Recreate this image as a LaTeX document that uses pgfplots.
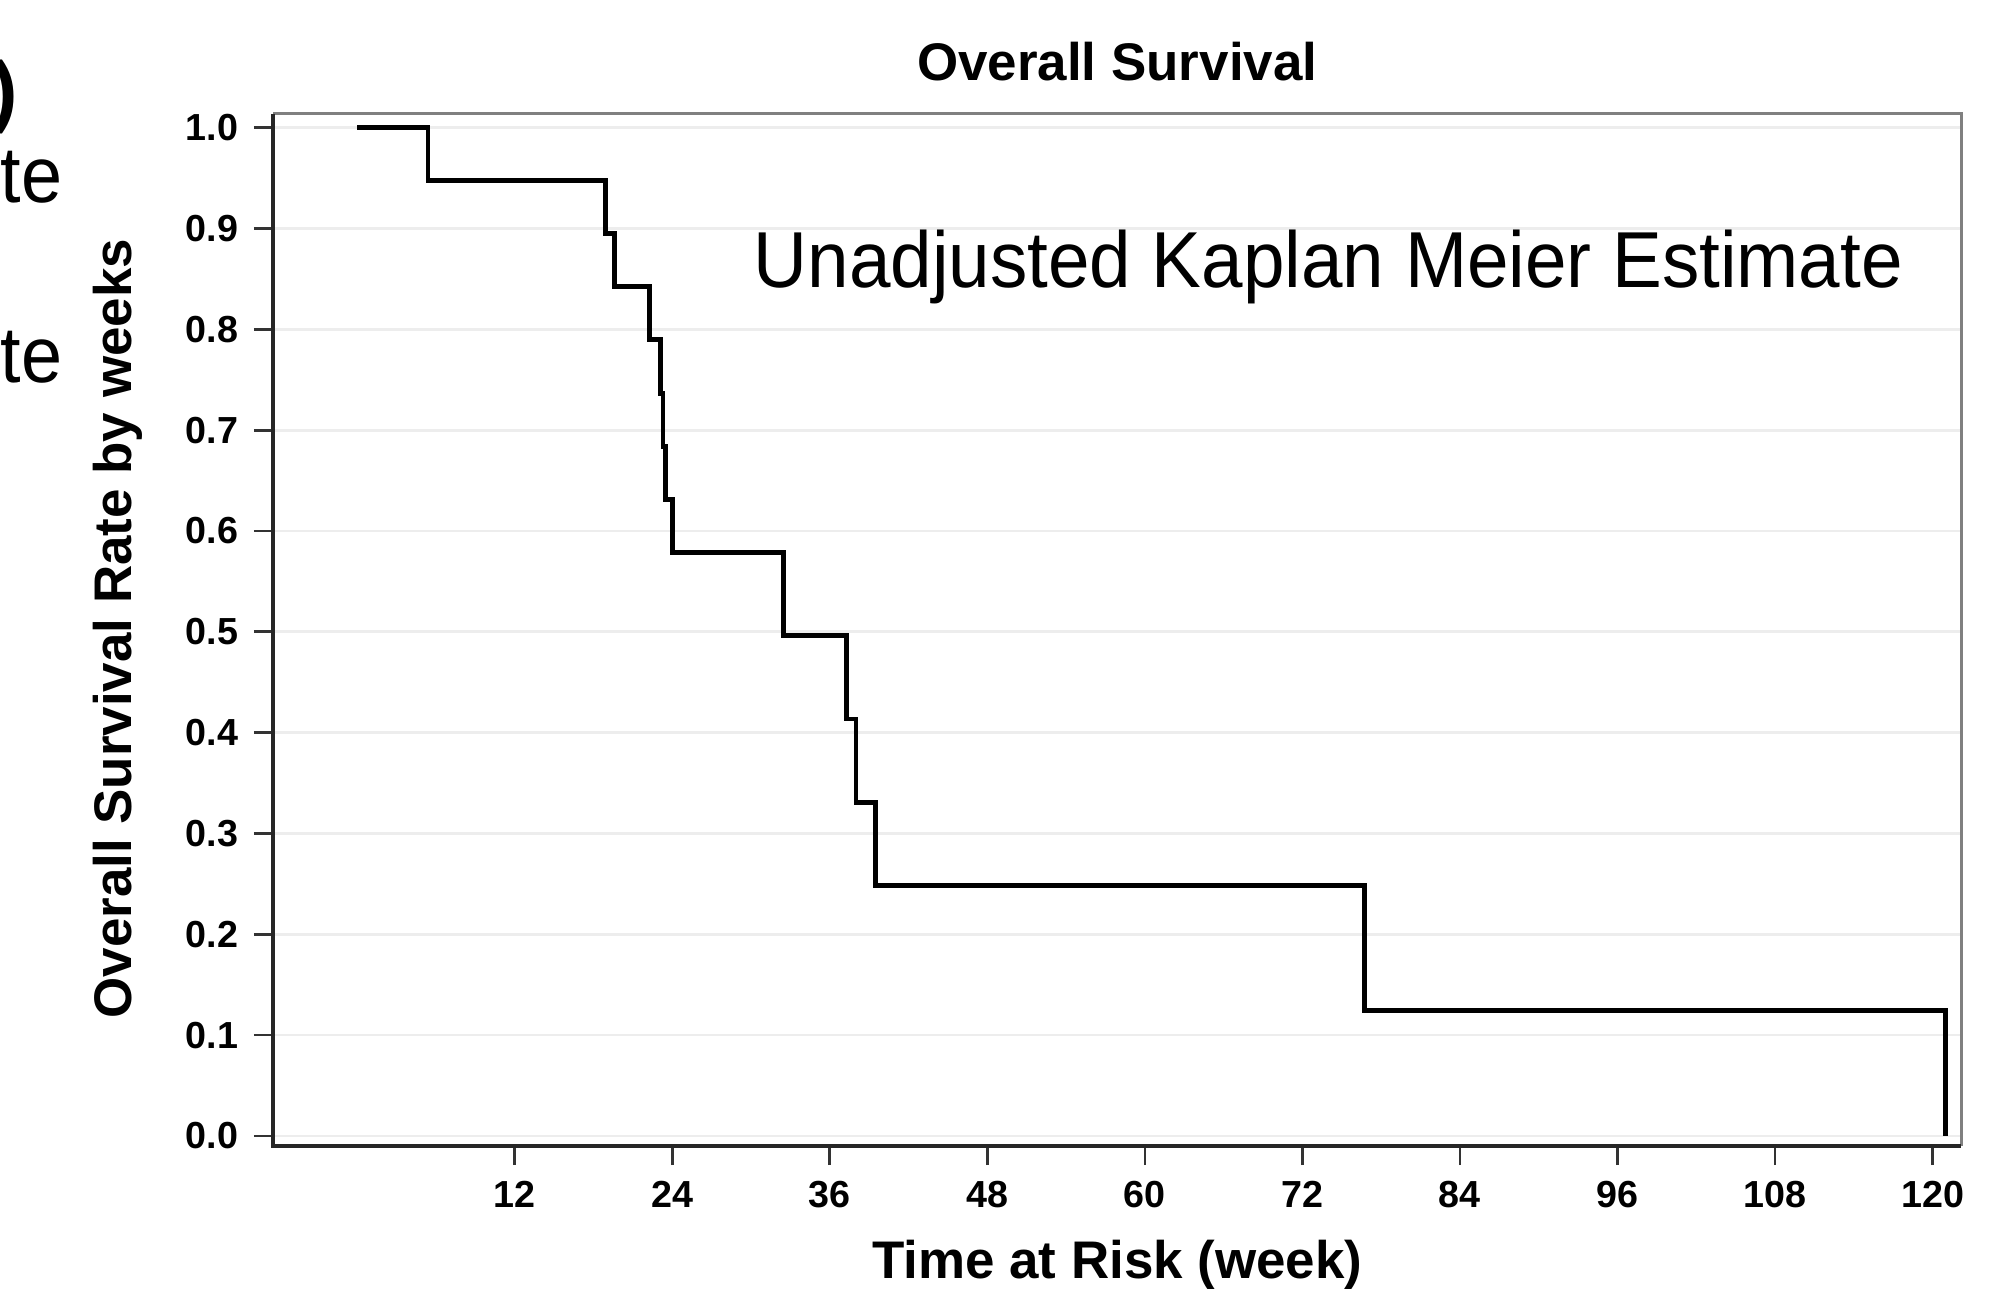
\documentclass[border=0pt]{standalone}
\usepackage{pgfplots}
\pgfplotsset{compat=1.18}
\usepackage{fontspec}
\setmainfont{Liberation Sans}
\begin{document}
\begin{tikzpicture}
\begin{axis}[at={(21.4mm,11.5mm)},anchor=south west,scale only axis,width=132.3mm,height=80.9mm,
xmin=-6.4,xmax=122.2,ymin=-0.010,ymax=1.014,
xtick={12,24,36,48,60,72,84,96,108,120},ytick={0,0.1,0.2,0.3,0.4,0.5,0.6,0.7,0.8,0.9,1},
yticklabel style={/pgf/number format/.cd,fixed,fixed zerofill,precision=1},
/pgf/number format/assume math mode=true,
ticklabel style={font=\fontsize{8.4}{9}\selectfont\bfseries},
tick pos=left,tick align=outside,major tick length=1.5mm,tick style={black!80,line width=0.6pt},
axis line style={draw=none},ymajorgrids,grid style={black!7,line width=0.6pt},
title={Overall Survival},title style={at={(axis description cs:0.5,1.0062)},anchor=base,inner sep=0pt,font=\fontsize{11.8}{14}\selectfont\bfseries},
xlabel={Time at Risk (week)},xlabel style={at={(axis description cs:0.5,-0.128)},anchor=base,inner sep=0pt,font=\fontsize{11.8}{14}\selectfont\bfseries},
ylabel={Overall Survival Rate by weeks},ylabel style={at={(axis description cs:-0.0839,0.501)},rotate=0,anchor=base,inner sep=0pt,font=\fontsize{11.8}{14}\selectfont\bfseries},
clip=false]
% Kaplan-Meier step curve
\addplot[const plot,black,line width=1.1pt] coordinates {
(0,1) (5.4,0.9474) (18.9,0.8947) (19.6,0.8421) (22.3,0.7895) (23.1,0.7368) (23.3,0.6842)
(23.5,0.6316) (24.0,0.5789) (32.5,0.4962) (37.3,0.4135) (38.0,0.3308) (39.5,0.2481)
(76.7,0.1241) (121.0,0)};
% frame: dark left/bottom, lighter top/right
\draw[black!50,line width=0.5pt] (rel axis cs:0,1) -- (rel axis cs:1,1) -- (rel axis cs:1,0);
\draw[black!85,line width=0.8pt] (rel axis cs:0,1) -- (rel axis cs:0,0) -- (rel axis cs:1,0);
\end{axis}
\node[anchor=base west,inner sep=0pt,font=\fontsize{17.7}{20}\selectfont] at (59mm,78.8mm) {\scalebox{0.94}[1]{Unadjusted Kaplan Meier Estimate}};
% cut-off text of the neighbouring panel
\node[anchor=base east,inner sep=0pt,font=\fontsize{17.7}{20}\selectfont\bfseries] at (1.5mm,92.1mm) {)};
\node[anchor=base east,inner sep=0pt,font=\fontsize{17.7}{20}\selectfont] at (4.97mm,85.4mm) {\scalebox{0.93}[1]{te}};
\node[anchor=base east,inner sep=0pt,font=\fontsize{17.7}{20}\selectfont] at (4.97mm,71.3mm) {\scalebox{0.93}[1]{te}};
\pgfresetboundingbox
\path[use as bounding box] (0,0) rectangle (156.8mm,101.3mm);
\end{tikzpicture}
\end{document}
